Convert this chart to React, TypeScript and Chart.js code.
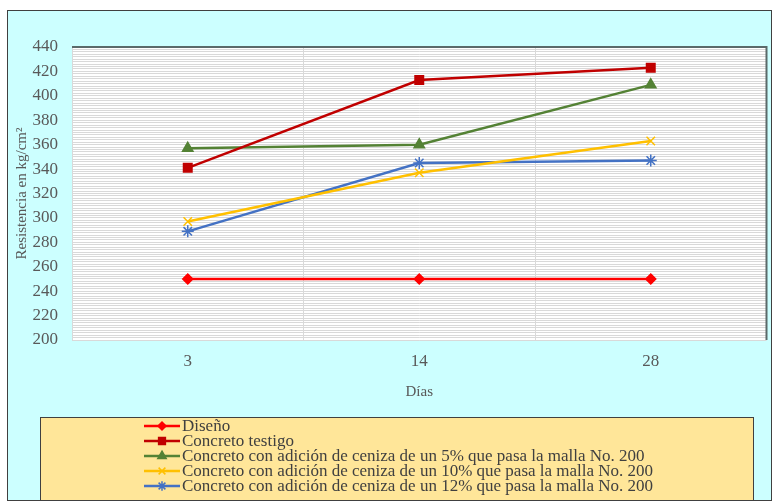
import React, { useEffect, useRef } from 'react';
import { Chart, registerables } from 'chart.js';
import { drawPoint } from 'chart.js/helpers';

Chart.register(...registerables);

// ---- Data ----
const categories = ['3', '14', '28'];
const seriesLabels = [
  'Diseño',
  'Concreto testigo',
  'Concreto con adición de ceniza de un 5% que pasa la malla No. 200',
  'Concreto con adición de ceniza de un 10% que pasa la malla No. 200',
  'Concreto con adición de ceniza de un 12% que pasa la malla No. 200',
];
const diseno = [250, 250, 250];
const testigo = [341, 413, 423];
const ceniza5 = [357, 360, 409];
const ceniza10 = [297, 337, 363];
const ceniza12 = [289, 345, 347];
const yMin = 200;
const yMax = 440;
const yGridStep = 2;
const yLabelStep = 20;
const xTitle = 'Días';
const yTitle = 'Resistencia en kg/cm²';

const FONT = "'Liberation Serif', 'Times New Roman', serif";
const TEXT = '#595959';

const bgPlugin = {
  id: 'bgPlugin',
  beforeDraw(chart: any) {
    const { ctx, chartArea } = chart;
    ctx.save();
    ctx.fillStyle = '#ffffff';
    ctx.fillRect(0, 0, chart.width, chart.height);
    ctx.fillStyle = '#CCFFFF';
    ctx.fillRect(7, 10, 765, 491);
    ctx.strokeStyle = '#404040';
    ctx.lineWidth = 1;
    ctx.strokeRect(7.5, 10.5, 764, 490);
    ctx.fillStyle = '#ffffff';
    ctx.fillRect(chartArea.left, chartArea.top, chartArea.right - chartArea.left, chartArea.bottom - chartArea.top);
    ctx.restore();
  },
  afterDatasetsDraw(chart: any) {
    const { ctx, chartArea } = chart;
    ctx.save();
    ctx.strokeStyle = '#5a6a6a';
    ctx.lineWidth = 2;
    ctx.beginPath();
    ctx.moveTo(chartArea.left, chartArea.top);
    ctx.lineTo(chartArea.right, chartArea.top);
    ctx.lineTo(chartArea.right, chartArea.bottom);
    ctx.stroke();
    ctx.restore();
  },
  afterDraw(chart: any) {
    const { ctx } = chart;
    const bx = 40, by = 417, bw = 714, bh = 84;
    ctx.save();
    ctx.fillStyle = '#FFE699';
    ctx.fillRect(bx, by, bw, bh);
    ctx.strokeStyle = '#404040';
    ctx.lineWidth = 1;
    ctx.strokeRect(bx + 0.5, by + 0.5, bw - 1, bh - 1);
    ctx.font = `17px ${FONT}`;
    ctx.textBaseline = 'middle';
    ctx.textAlign = 'left';
    chart.data.datasets.forEach((ds: any, i: number) => {
      const y = 426 + i * 15;
      ctx.strokeStyle = ds.borderColor;
      ctx.lineWidth = 2.5;
      ctx.beginPath();
      ctx.moveTo(144, y);
      ctx.lineTo(180, y);
      ctx.stroke();
      ctx.fillStyle = ds.pointBackgroundColor;
      ctx.strokeStyle = ds.pointBorderColor;
      ctx.lineWidth = 1.5;
      drawPoint(ctx, { pointStyle: ds.pointStyle, radius: ds.pointRadius * 0.8, borderWidth: 1.5 } as any, 162, y);
      ctx.fillStyle = '#404040';
      ctx.fillText(ds.label, 182, y + 1);
    });
    ctx.restore();
  },
};

export default function App() {
  const ref = useRef<HTMLCanvasElement | null>(null);
  useEffect(() => {
    if (!ref.current) return;
    const mk = (label: string, data: number[], color: string, style: string, r: number, fill?: string) => ({
      label,
      data,
      borderColor: color,
      backgroundColor: color,
      pointBackgroundColor: fill || color,
      pointBorderColor: color,
      pointStyle: style,
      pointRadius: r,
      pointBorderWidth: 1.5,
      borderWidth: 2.5,
      tension: 0,
    });
    const chart = new Chart(ref.current, {
      type: 'line',
      data: {
        labels: categories,
        datasets: [
          mk(seriesLabels[0], diseno, '#FF0000', 'rectRot', 5),
          mk(seriesLabels[1], testigo, '#C00000', 'rect', 6),
          mk(seriesLabels[2], ceniza5, '#548235', 'triangle', 6),
          mk(seriesLabels[3], ceniza10, '#FFC000', 'crossRot', 6),
          mk(seriesLabels[4], ceniza12, '#4472C4', 'star', 6),
        ] as any,
      },
      options: {
        animation: false,
        responsive: false,
        layout: { padding: { left: 0, right: 3, top: 47, bottom: 92 } },
        plugins: { legend: { display: false }, tooltip: { enabled: false } },
        scales: {
          x: {
            type: 'category',
            offset: true,
            grid: { offset: true, color: '#D9D9D9', drawTicks: false },
            border: { display: false },
            ticks: { color: TEXT, font: { family: FONT, size: 17 }, padding: 11 },
            title: { display: true, text: xTitle, color: TEXT, font: { family: FONT, size: 15 }, padding: { top: 0, bottom: 9 } },
            afterFit(scale: any) { scale.height = 70; },
          },
          y: {
            min: yMin,
            max: yMax,
            grid: { color: '#D9D9D9', drawTicks: false },
            border: { display: false },
            ticks: {
              stepSize: yGridStep,
              autoSkip: false,
              color: TEXT,
              font: { family: FONT, size: 17 },
              padding: 14,
              callback: (v: any) => (Number(v) % yLabelStep === 0 ? String(v) : ''),
            },
            title: { display: true, text: yTitle, color: TEXT, font: { family: FONT, size: 15 }, padding: { top: 13, bottom: 0 } },
            afterFit(scale: any) { scale.width = 72; },
          },
        },
      },
      plugins: [bgPlugin],
    } as any);
    return () => chart.destroy();
  }, []);
  return (
    <div style={{ position: 'absolute', left: 0, top: 0, width: 774, height: 502 }}>
      <canvas ref={ref} width={774} height={502} style={{ display: 'block' }} />
    </div>
  );
}
